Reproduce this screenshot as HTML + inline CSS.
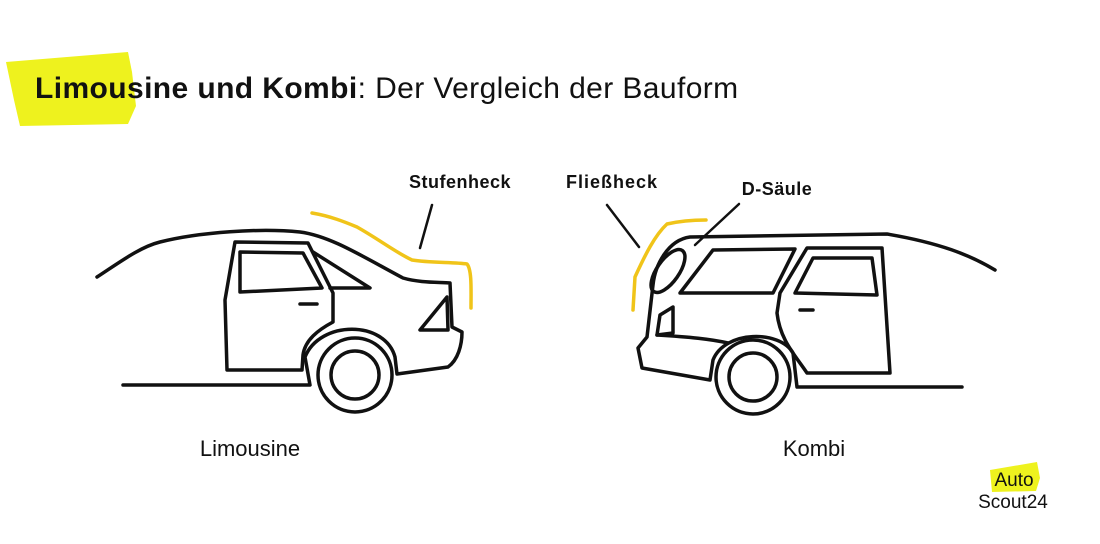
<!DOCTYPE html>
<html><head><meta charset="utf-8"><style>
body{margin:0;background:#fff;}
.w{position:relative;width:1100px;height:544px;overflow:hidden;font-family:"Liberation Sans",sans-serif;}
</style></head><body><div class="w">
<svg width="1100" height="544" viewBox="0 0 1100 544" xmlns="http://www.w3.org/2000/svg">
<polygon points="6,62 128,52 132,72 136,106 128,124 20,126 14,100" fill="#eef21e"/>
<polygon points="990,470 1037,462 1040,478 1036,491 992,492" fill="#eef21e"/>
<text x="35" y="98" font-size="30" fill="#111" letter-spacing="0.4" font-family="Liberation Sans, sans-serif"><tspan font-weight="bold">Limousine und Kombi</tspan>: Der Vergleich der Bauform</text>
<g font-family="Liberation Sans, sans-serif" fill="#111" text-anchor="middle">
<text x="460" y="188" font-size="18" font-weight="bold" letter-spacing="0.5">Stufenheck</text>
<text x="612" y="188" font-size="18" font-weight="bold" letter-spacing="1">Fließheck</text>
<text x="777" y="195" font-size="18" font-weight="bold" letter-spacing="0.5">D-Säule</text>
<text x="250" y="456" font-size="22">Limousine</text>
<text x="814" y="456" font-size="22">Kombi</text>
<text x="1014" y="486" font-size="19">Auto</text>
<text x="1013" y="508" font-size="19">Scout24</text>
</g>
<g fill="none" stroke="#111" stroke-width="3.5" stroke-linejoin="round" stroke-linecap="round">
<path d="M97,277 C120,262 140,247 160,242 C200,232 260,228 300,232 C330,236 360,255 403,278 C420,283 440,282 450,283 L452,327 L462,332 C462,345 458,360 448,367 L397,374 L395,357 C385,320 320,320 305,357 L310,385 L123,385"/>
<path d="M227,370 L225,300 L235,242 L308,243 L333,293 L333,322 C318,330 305,340 303,355 L302,370 Z"/>
<path d="M240,252 L303,253 L322,288 L240,292 Z"/>
<path d="M313,252 L370,288 L330,288"/>
<path d="M300,304 L317,304"/>
<path d="M447,297 L420,330 L448,330 Z"/>
<circle cx="355" cy="375" r="37"/><circle cx="355" cy="375" r="24"/>
<path d="M432,205 L420,248" stroke-width="2.5"/>
<path d="M995,270 C970,255 940,243 887,234 L690,237 C668,240 655,265 653,285 L647,337 L638,348 L642,368 L710,380 L713,360 C725,330 780,330 793,353 L797,387 L962,387"/>
<ellipse cx="668" cy="271" rx="11" ry="25" transform="rotate(35 668 271)"/>
<path d="M680,293 L713,250 L795,249 L773,293 Z"/>
<path d="M807,373 C795,355 780,340 777,313 L780,293 L807,248 L882,248 L890,373 Z"/>
<path d="M795,293 L813,258 L872,258 L877,295 Z"/>
<path d="M800,310 L813,310"/>
<path d="M673,307 L660,315 L657,335 L673,333 Z"/>
<path d="M657,335 C690,337 710,339 728,343"/>
<circle cx="753" cy="377" r="37"/><circle cx="753" cy="377" r="24"/>
<path d="M607,205 L639,247" stroke-width="2.5"/>
<path d="M739,204 L695,245" stroke-width="2.5"/>
</g>
<g fill="none" stroke="#f0c419" stroke-width="3.5" stroke-linecap="round" stroke-linejoin="round">
<path d="M312,213 C330,216 345,222 357,227 C380,240 395,252 412,260 C430,263 455,262 467,264 C472,270 471,290 471,308"/>
<path d="M633,310 L635,277 C645,255 655,235 667,224 C680,221 695,220 706,220"/>
</g>
</svg>
</div></body></html>
